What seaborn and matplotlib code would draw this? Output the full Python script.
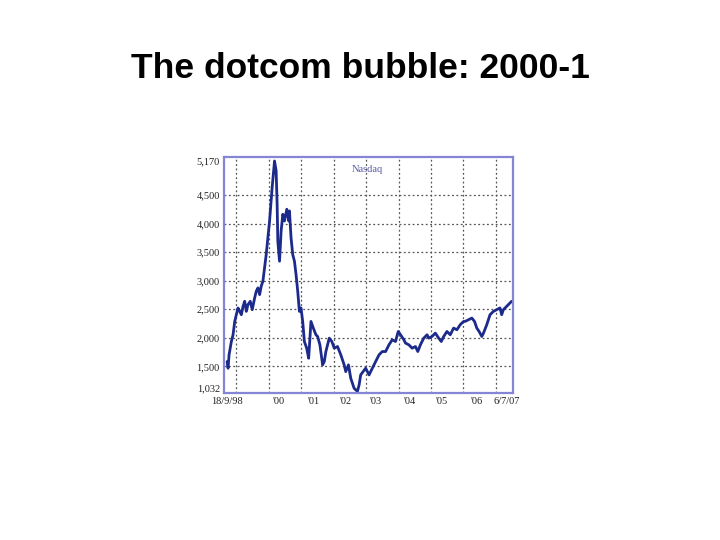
import matplotlib
matplotlib.use("Agg")
import matplotlib.pyplot as plt
import seaborn as sns
import pandas as pd

# Nasdaq composite (fractional year, index level)
years = [1998.715, 1998.746, 1998.776, 1998.847, 1998.899, 1998.951, 1999.000, 1999.052,
         1999.105, 1999.154, 1999.206, 1999.258, 1999.307, 1999.359, 1999.430, 1999.491,
         1999.565, 1999.614, 1999.666, 1999.718, 1999.767, 1999.819, 1999.921, 2000.025,
         2000.105, 2000.178, 2000.227, 2000.258, 2000.279, 2000.332, 2000.381, 2000.433,
         2000.485, 2000.556, 2000.617, 2000.638, 2000.687, 2000.739, 2000.792, 2000.841,
         2000.893, 2000.945, 2000.994, 2001.046, 2001.098, 2001.169, 2001.230, 2001.301,
         2001.374, 2001.454, 2001.506, 2001.577, 2001.660, 2001.712, 2001.761, 2001.865,
         2001.945, 2002.019, 2002.120, 2002.221, 2002.325, 2002.374, 2002.457, 2002.528,
         2002.632, 2002.733, 2002.785, 2002.834, 2002.908, 2002.988, 2003.092, 2003.193,
         2003.295, 2003.399, 2003.500, 2003.602, 2003.706, 2003.807, 2003.908, 2003.991,
         2004.062, 2004.166, 2004.215, 2004.319, 2004.420, 2004.522, 2004.595, 2004.675,
         2004.779, 2004.880, 2004.933, 2005.034, 2005.135, 2005.239, 2005.319, 2005.393,
         2005.494, 2005.595, 2005.699, 2005.801, 2005.902, 2006.006, 2006.055, 2006.160,
         2006.261, 2006.344, 2006.414, 2006.485, 2006.568, 2006.620, 2006.721, 2006.822,
         2006.926, 2007.028, 2007.129, 2007.181, 2007.233, 2007.334, 2007.436, 2007.488]
values = [1583, 1466, 1701, 1935, 2053, 2287, 2405, 2523,
          2463, 2405, 2551, 2640, 2463, 2581, 2640, 2493,
          2699, 2815, 2875, 2757, 2904, 2990, 3460, 4048,
          4640, 5100, 4930, 4340, 3695, 3343, 3870, 4166,
          4048, 4254, 4048, 4225, 3755, 3460, 3343, 3110,
          2815, 2463, 2523, 2287, 1935, 1818, 1641, 2287,
          2170, 2053, 2023, 1877, 1525, 1583, 1759, 1994,
          1935, 1818, 1847, 1701, 1525, 1407, 1525, 1290,
          1114, 1060, 1173, 1349, 1407, 1466, 1349, 1466,
          1583, 1701, 1759, 1759, 1877, 1965, 1935, 2111,
          2053, 1965, 1907, 1877, 1818, 1847, 1759, 1877,
          1994, 2053, 1994, 2023, 2082, 1994, 1935, 2023,
          2111, 2053, 2170, 2141, 2229, 2287, 2287, 2317,
          2346, 2287, 2170, 2111, 2023, 2082, 2229, 2405,
          2463, 2493, 2523, 2405, 2493, 2551, 2610, 2640]

y_ticks = [1032, 1500, 2000, 2500, 3000, 3500, 4000, 4500, 5170]
y_tick_labels = ["1,032", "1,500", "2,000", "2,500", "3,000", "3,500", "4,000", "4,500", "5,170"]
grid_years = [1999, 2000, 2001, 2002, 2003, 2004, 2005, 2006, 2007]
x_label_pos = [1998.715, 2000.31, 2001.38, 2002.37, 2003.29, 2004.36, 2005.34, 2006.41, 2007.35]
x_labels = ["18/9/98", "'00", "'01", "'02", "'03", "'04", "'05", "'06", "6/7/07"]

df = pd.DataFrame({"year": years, "value": values})

sns.set_style("white")
fig = plt.figure(figsize=(7.2, 5.4), dpi=100)
fig.patch.set_facecolor("white")

fig.text(0.5, 1 - 78 / 540, "The dotcom bubble: 2000-1", ha="center", va="baseline",
         fontsize=25.5, fontweight="bold", family=["Liberation Sans", "DejaVu Sans"], color="black")

ax = fig.add_axes([224 / 720, 1 - 393 / 540, (513 - 224) / 720, (393 - 157) / 540])
sns.lineplot(data=df, x="year", y="value", ax=ax, color="#1c2a8c", linewidth=2.0)

ax.set_xlim(1998.62, 2007.53)
ax.set_ylim(1032, 5170)
ax.set_xlabel("")
ax.set_ylabel("")

# gridlines
for gy in y_ticks[1:-1]:
    ax.axhline(gy, color="#555555", linestyle=(0, (1.5, 2)), linewidth=0.9, zorder=0)
for gx in grid_years:
    ax.axvline(gx, color="#555555", linestyle=(0, (1.5, 2)), linewidth=0.9, zorder=0)

tick_font = dict(family=["Liberation Serif", "DejaVu Serif"], size=7.5, color="#222222")
ax.set_yticks(y_ticks)
ax.set_yticklabels(y_tick_labels, **tick_font)
ax.set_xticks(x_label_pos)
ax.set_xticklabels(x_labels, **tick_font)
ax.tick_params(axis="both", length=0, pad=3)
labs = ax.get_yticklabels()
labs[0].set_va("bottom")
labs[-1].set_va("top")

for s in ax.spines.values():
    s.set_color("#8585d6")
    s.set_linewidth(1.6)

ax.text(0.495, 0.965, "Nasdaq", transform=ax.transAxes, ha="center", va="top",
        family=["Liberation Serif", "DejaVu Serif"], fontsize=7.5, color="#5a5aa8")

fig.savefig("out.png", dpi=100, facecolor="white")
